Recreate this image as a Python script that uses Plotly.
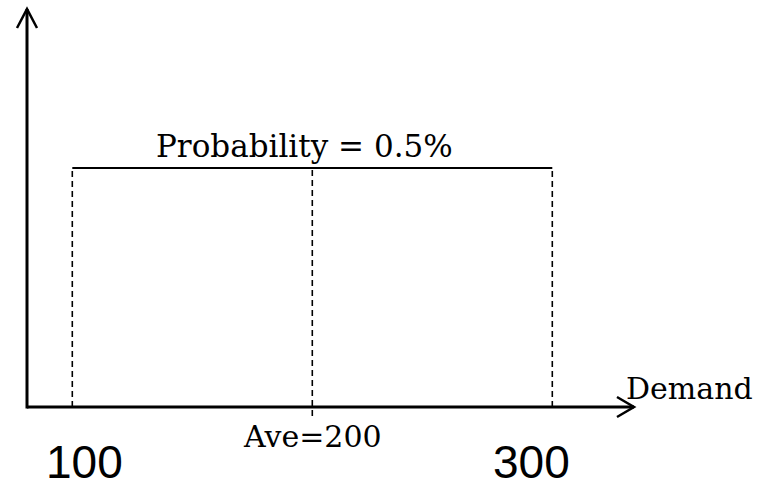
import plotly.graph_objects as go

# ---- data ----
lower_bound = 100
upper_bound = 300
average = 200
probability_level = 0.5
probability_label = "Probability = 0.5%"
average_label = "Ave=200"
axis_label = "Demand"
tick_values = [100, 300]
tick_labels = ["100", "300"]

# ---- layout geometry (window pixels) ----
W, H = 757, 485
PX_PER_UNIT = 2.4
X_AT_WIN0 = 69.875         # data x at window's left edge
PY_PER_UNIT = 478.0
Y_BASE_PX = 407.0          # window pixel row of y = 0


def px2x(p):
    return X_AT_WIN0 + p / PX_PER_UNIT


def py2y(p):
    return (Y_BASE_PX - p) / PY_PER_UNIT


x_range = [px2x(0), px2x(W)]
y_range = [py2y(H), py2y(0)]

BLACK = "#000000"
shapes = []

# axes (arrows)
ax_x0 = px2x(27)
ax_x1 = px2x(634)
ax_y1 = py2y(9)
shapes.append(dict(type="line", x0=ax_x0, x1=ax_x1, y0=0, y1=0,
                   line=dict(color=BLACK, width=3)))
shapes.append(dict(type="line", x0=ax_x0, x1=ax_x0, y0=py2y(408.5), y1=ax_y1,
                   line=dict(color=BLACK, width=3)))
shapes.append(dict(type="path",
                   path=f"M {px2x(17)},{py2y(28)} L {ax_x0},{ax_y1} L {px2x(37)},{py2y(28)}",
                   line=dict(color=BLACK, width=2.5)))
shapes.append(dict(type="path",
                   path=f"M {px2x(617)},{py2y(397)} L {ax_x1},0 L {px2x(617)},{py2y(417)}",
                   line=dict(color=BLACK, width=2.5)))

# uniform density top
shapes.append(dict(type="line", x0=lower_bound, x1=upper_bound,
                   y0=probability_level, y1=probability_level,
                   line=dict(color=BLACK, width=2)))
# dashed verticals
for xv in [lower_bound, upper_bound]:
    shapes.append(dict(type="line", x0=xv, x1=xv, y0=0, y1=probability_level,
                       line=dict(color=BLACK, width=1.6, dash="6px,4px")))
shapes.append(dict(type="line", x0=average, x1=average, y0=py2y(416),
                   y1=probability_level,
                   line=dict(color=BLACK, width=1.6, dash="6px,4px")))

serif = "DejaVu Serif"
sans = "Liberation Sans"

annotations = [
    dict(x=average, y=probability_level, text=probability_label, showarrow=False,
         xanchor="center", yanchor="bottom", xshift=-8, yshift=2,
         font=dict(family=serif, size=31, color=BLACK)),
    dict(x=ax_x1, y=0, text=axis_label, showarrow=False,
         xanchor="left", yanchor="bottom", xshift=-10, yshift=-1,
         font=dict(family=serif, size=30, color=BLACK)),
    dict(x=average, y=0, text=average_label, showarrow=False,
         xanchor="center", yanchor="top", xshift=0, yshift=-10,
         font=dict(family=serif, size=30, color=BLACK)),
]
label_shift = {100: 12, 300: -21}
for v, t in zip(tick_values, tick_labels):
    annotations.append(dict(x=v, y=0, text=t, showarrow=False,
                            xanchor="center", yanchor="top",
                            xshift=label_shift[v], yshift=-27,
                            font=dict(family=sans, size=46, color=BLACK)))

fig = go.Figure()
fig.add_trace(go.Scatter(x=[lower_bound, upper_bound],
                         y=[probability_level, probability_level],
                         mode="lines", line=dict(color="rgba(0,0,0,0)"),
                         hoverinfo="skip", showlegend=False))
fig.update_layout(
    width=W, height=H,
    margin=dict(l=0, r=0, t=0, b=0),
    paper_bgcolor="white", plot_bgcolor="white",
    xaxis=dict(range=x_range, visible=False, fixedrange=True),
    yaxis=dict(range=y_range, visible=False, fixedrange=True),
    shapes=shapes, annotations=annotations, showlegend=False,
)
fig.write_html(
    "out.html",
    config={"displayModeBar": False, "staticPlot": True},
    post_script="document.body.style.margin='0';document.body.style.overflow='hidden';",
)
